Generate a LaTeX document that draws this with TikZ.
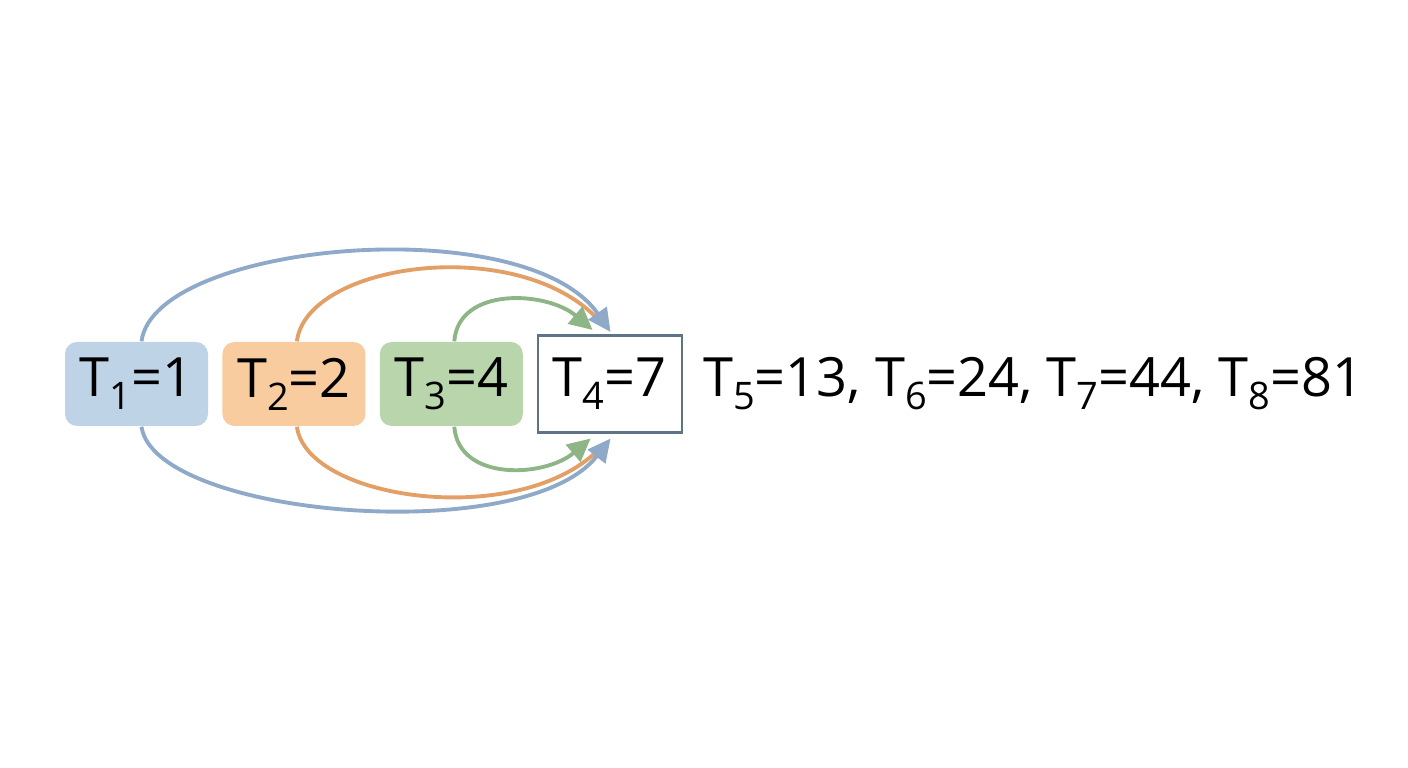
\documentclass[tikz,border=0pt]{standalone}
\usepackage{fontspec}
\setmainfont{Open Sans}
\usetikzlibrary{positioning,arrows.meta}

\definecolor{bluefill}{HTML}{BFD3E7}
\definecolor{blueline}{HTML}{8FA9C9}
\definecolor{orangefill}{HTML}{F8CC9E}
\definecolor{orangeline}{HTML}{E3A066}
\definecolor{greenfill}{HTML}{B8D5AB}
\definecolor{greenline}{HTML}{8DB585}
\definecolor{boxline}{HTML}{5F7387}

\newcommand{\tsub}[1]{\raisebox{-0.45ex}{\fontsize{10.8}{11}\selectfont #1}}

\begin{document}
\begin{tikzpicture}
        \tikzstyle{every node}=[font=\fontsize{15.4}{17}\selectfont]
        \tikzstyle{termbox}=[rounded corners=0.12cm, minimum width=1.43cm, minimum height=0.84cm, inner sep=0]
        \tikzstyle{link}=[line width=1.1pt, -{Triangle[length=0.23cm,width=0.22cm]}]
        \useasboundingbox (0,0) rectangle (14.08,7.68);

        \node[termbox, fill=bluefill] (T1) at (1.365,3.84) {T\tsub{1}=1};
        \node[termbox, fill=orangefill, right=0.13cm of T1] (T2) {T\tsub{2}=2};
        \node[termbox, fill=greenfill, right=0.13cm of T2] (T3) {T\tsub{3}=4};
        \node[termbox, draw=boxline, line width=0.6pt, fill=white, rounded corners=0, minimum width=1.44cm, minimum height=0.97cm, right=0.13cm of T3] (T4) {T\tsub{4}=7};
        \node[anchor=base west, inner sep=0] (rest) at ([xshift=0.2cm]T4.base east) {T\tsub{5}=13, T\tsub{6}=24, T\tsub{7}=44, T\tsub{8}=81};

        % arrow ends
        \coordinate (btop) at ([shift={(0.01,0.025)}]T4.north);
        \coordinate (otop) at ([shift={(-0.07,0.1)}]T4.north);
        \coordinate (gtop) at ([shift={(-0.17,0.045)}]T4.north);
        \coordinate (bbot) at ([shift={(0.01,-0.05)}]T4.south);
        \coordinate (obot) at ([shift={(-0.07,-0.12)}]T4.south);
        \coordinate (gbot) at ([shift={(-0.19,-0.05)}]T4.south);

        % T4 = T3 + T2 + T1
        \draw[orangeline, line width=1.1pt] ([xshift=0.03cm]T2.north) .. controls +(0.1,0.8) and +(-0.77,0.92) .. (otop);
        \draw[orangeline, line width=1.1pt] ([xshift=0.03cm]T2.south) .. controls +(0.1,-0.75) and +(-0.77,-0.85) .. (obot);
        \draw[link, blueline] ([xshift=0.05cm]T1.north) .. controls +(0.13,0.99) and +(-0.86,1.23) .. (btop);
        \draw[link, blueline] ([xshift=0.05cm]T1.south) .. controls +(0.13,-0.9) and +(-0.86,-1.1) .. (bbot);
        \draw[link, greenline] ([xshift=0.03cm]T3.north) .. controls +(0.04,0.55) and +(-0.46,0.39) .. (gtop);
        \draw[link, greenline] ([xshift=0.03cm]T3.south) .. controls +(0.04,-0.55) and +(-0.46,-0.39) .. (gbot);
    \end{tikzpicture}
\end{document}
